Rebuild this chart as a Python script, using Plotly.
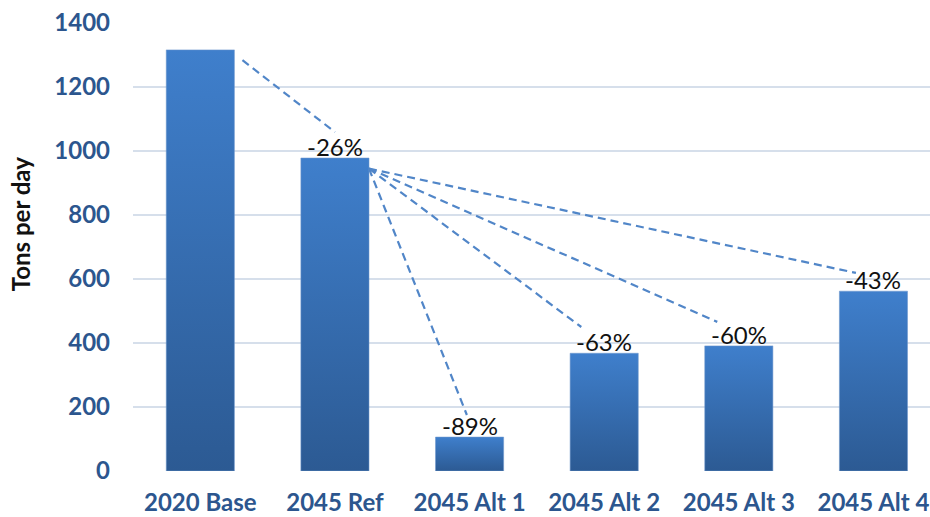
import plotly.graph_objects as go

# values
scenarios = ["2020 Base", "2045 Ref", "2045 Alt 1", "2045 Alt 2", "2045 Alt 3", "2045 Alt 4"]
tons_per_day = [1316, 978, 106, 368, 391, 562]
change_labels = ["", "-26%", "-89%", "-63%", "-60%", "-43%"]
y_ticks = [0, 200, 400, 600, 800, 1000, 1200, 1400]

HALF_W = 0.253          # half bar width, in category units
BAR_TOP = "#3F7FCC"
BAR_BOTTOM = "#2C5A93"
TICK_BLUE = "#2C568E"
DASH_BLUE = "#5186C8"

fig = go.Figure()

# bars as filled polygons so each one can carry its own vertical gradient
for i, v in enumerate(tons_per_day):
    fig.add_trace(go.Scatter(
        x=[i - HALF_W, i - HALF_W, i + HALF_W, i + HALF_W, i - HALF_W],
        y=[0, v, v, 0, 0],
        mode="lines", fill="toself",
        fillgradient=dict(type="vertical",
                          colorscale=[[0, BAR_BOTTOM], [1, BAR_TOP]]),
        line=dict(width=0.8, color="rgba(110,150,205,0.7)"),
        hoverinfo="skip", showlegend=False,
    ))

# percent change labels over the scenario bars
for i, (v, lab) in enumerate(zip(tons_per_day, change_labels)):
    if lab:
        fig.add_annotation(x=i, y=v, text=lab, showarrow=False, yanchor="bottom",
                           yshift=-5, font=dict(family="Lato", size=24, color="#111111"))

# dashed connectors: base -> ref, then ref -> each alternative label
ref = 1
connectors = [(0, ref, 0.06, -32, 0.0, 81)]
connectors += [(ref, j, 0.0, -33, dx, dy)
               for j, dx, dy in [(2, -0.02, 69), (3, -0.17, 82), (4, -0.16, 75), (5, -0.13, 57)]]
for a, b, sdy_x, sdy, edx, edy in connectors:
    fig.add_shape(type="line", xref="x", yref="y",
                  x0=a + HALF_W + sdy_x, y0=tons_per_day[a] + sdy,
                  x1=b + edx, y1=tons_per_day[b] + edy,
                  line=dict(color=DASH_BLUE, width=2.2, dash="8px,5px"))

fig.add_annotation(xref="paper", yref="paper", x=-0.141, y=0.55, text="<b>Tons per day</b>",
                   textangle=-90, showarrow=False, xanchor="center", yanchor="middle",
                   font=dict(family="Lato", size=24, color="#111111"))

fig.update_xaxes(
    range=[-0.5, 5.42], tickmode="array", tickvals=list(range(len(scenarios))),
    ticktext=[f"<b>{s}</b>" for s in scenarios], showgrid=False, zeroline=False,
    showline=False, ticks="", ticklabelstandoff=15,
    tickfont=dict(family="Lato", size=24, color=TICK_BLUE),
)
fig.update_yaxes(
    range=[0, 1400], tickmode="array", tickvals=y_ticks,
    ticktext=[f"<b>{t}</b>" for t in y_ticks],
    showgrid=True, gridcolor="#D6DFEB", gridwidth=2, zeroline=False, showline=False,
    ticks="", ticklabelstandoff=22,
    tickfont=dict(family="Lato", size=24, color=TICK_BLUE),
)
fig.update_layout(
    width=930, height=517, margin=dict(l=133, r=0, t=23, b=46, autoexpand=False),
    plot_bgcolor="white", paper_bgcolor="white",
)

fig.write_html("out.html", config={"displayModeBar": False},
               post_script="document.body.style.margin='0px';")
